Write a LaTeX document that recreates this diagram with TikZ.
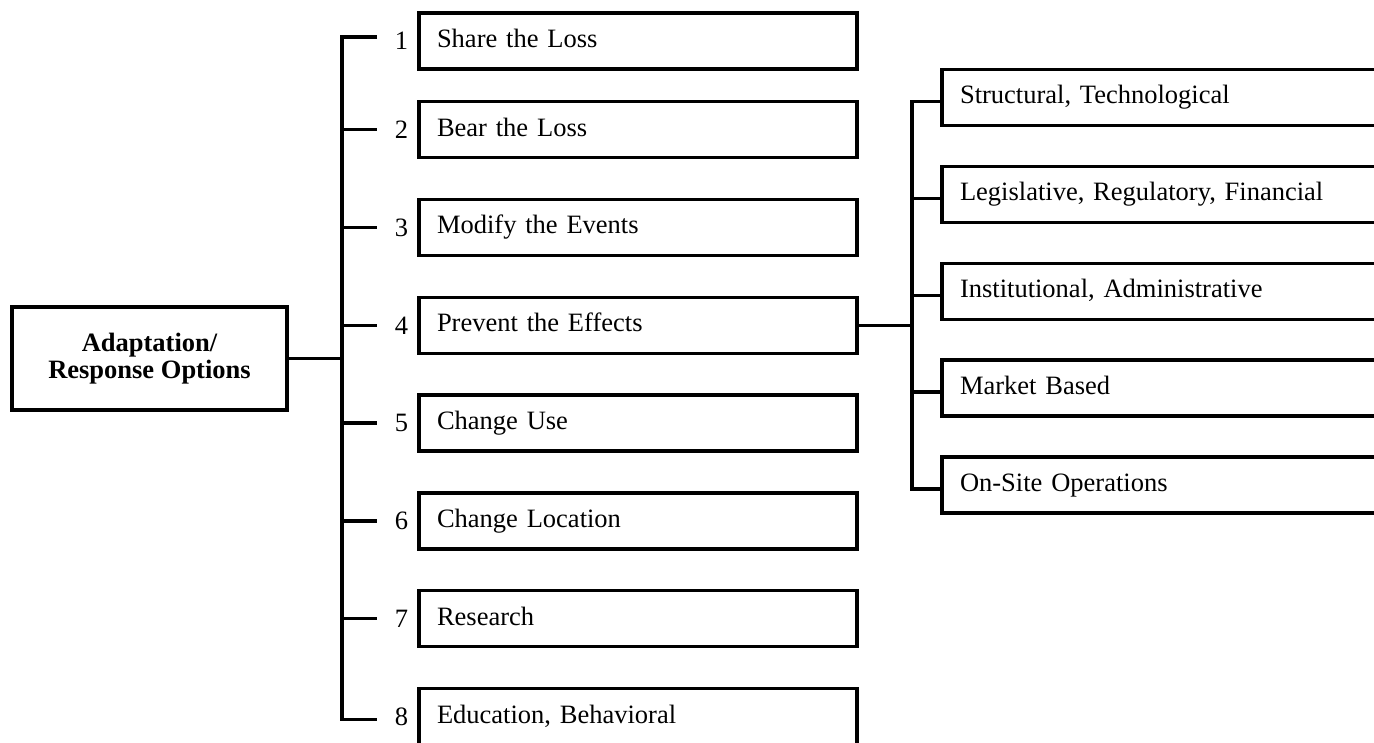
\documentclass[tikz,border=0pt]{standalone}
\usepackage{fontspec}
\setmainfont{Liberation Serif}
\usetikzlibrary{positioning}

\begin{document}
\begin{tikzpicture}[
    x=0.5pt, y=-0.5pt,
    node distance=20.9pt,
    font=\fontsize{13.25}{13.6}\selectfont,
    tree/.style={line width=1.75pt},
    optbox/.style={draw, line width=1.75pt, outer sep=0pt, minimum height=28pt, text width=201pt,
        inner xsep=9pt, align=left, text height=9.5pt, text depth=3pt},
    subbox/.style={optbox, text width=221pt},
    numlab/.style={inner sep=0pt, outer sep=0pt}
]
\clip (0,0) rectangle (1374,743);

% Hauptknoten
\node[draw, line width=1.75pt, outer sep=0pt, minimum width=137.5pt, minimum height=51.5pt, align=center,
    font=\bfseries\fontsize{13.25}{13.5}\selectfont] (main) at (149.5,358.5) {Adaptation/\\Response Options};

% Optionen
\node[optbox, anchor=west] (b1) at (419,41) {Share the Loss};
\node[optbox, anchor=west] (b2) at (419,129.7) {Bear the Loss};
\node[optbox, below=of b2] (b3) {Modify the Events};
\node[optbox, below=of b3] (b4) {Prevent the Effects};
\node[optbox, below=of b4] (b5) {Change Use};
\node[optbox, below=of b5] (b6) {Change Location};
\node[optbox, below=of b6] (b7) {Research};
\node[optbox, below=of b7] (b8) {Education, Behavioral};

% Nummern
\node[numlab, left=5.5pt of b1] (n1) {1};
\node[numlab, left=5.5pt of b2] (n2) {2};
\node[numlab, left=5.5pt of b3] (n3) {3};
\node[numlab, left=5.5pt of b4] (n4) {4};
\node[numlab, left=5.5pt of b5] (n5) {5};
\node[numlab, left=5.5pt of b6] (n6) {6};
\node[numlab, left=5.5pt of b7] (n7) {7};
\node[numlab, left=5.5pt of b8] (n8) {8};

% Unteroptionen
\node[subbox, anchor=west] (s1) at (942,97.5) {Structural, Technological};
\node[subbox, below=20.45pt of s1] (s2) {Legislative, Regulatory, Financial};
\node[subbox, below=20.45pt of s2] (s3) {Institutional, Administrative};
\node[subbox, below=20.45pt of s3] (s4) {Market Based};
\node[subbox, below=20.45pt of s4] (s5) {On-Site Operations};

% Verbindungen
\coordinate (trunkA) at (342,0);
\coordinate (tickA) at (377,0);
\draw[tree] (main.east) -- (main.east -| trunkA);
\draw[tree] ([yshift=2pt]b1.west -| tickA) -- ([yshift=2pt]b1.west -| trunkA)
    -- ([yshift=-1.5pt]b8.west -| trunkA) -- ([yshift=-1.5pt]b8.west -| tickA);
\draw[tree] (b2 -| trunkA) -- (b2 -| tickA);
\draw[tree] (b3 -| trunkA) -- (b3 -| tickA);
\draw[tree] (b4 -| trunkA) -- (b4 -| tickA);
\draw[tree] (b5 -| trunkA) -- (b5 -| tickA);
\draw[tree] (b6 -| trunkA) -- (b6 -| tickA);
\draw[tree] (b7 -| trunkA) -- (b7 -| tickA);

\coordinate (trunkB) at (912,0);
\draw[tree] (b4.east) -- (b4.east -| trunkB);
\draw[tree] ([yshift=-2pt]s1.west) -- ([yshift=-2pt]s1.west -| trunkB)
    -- ([yshift=-2pt]s5.west -| trunkB) -- ([yshift=-2pt]s5.west);
\draw[tree] ([yshift=-2pt]s2.west -| trunkB) -- ([yshift=-2pt]s2.west);
\draw[tree] ([yshift=-2pt]s3.west -| trunkB) -- ([yshift=-2pt]s3.west);
\draw[tree] ([yshift=-2pt]s4.west -| trunkB) -- ([yshift=-2pt]s4.west);

\end{tikzpicture}
\end{document}
